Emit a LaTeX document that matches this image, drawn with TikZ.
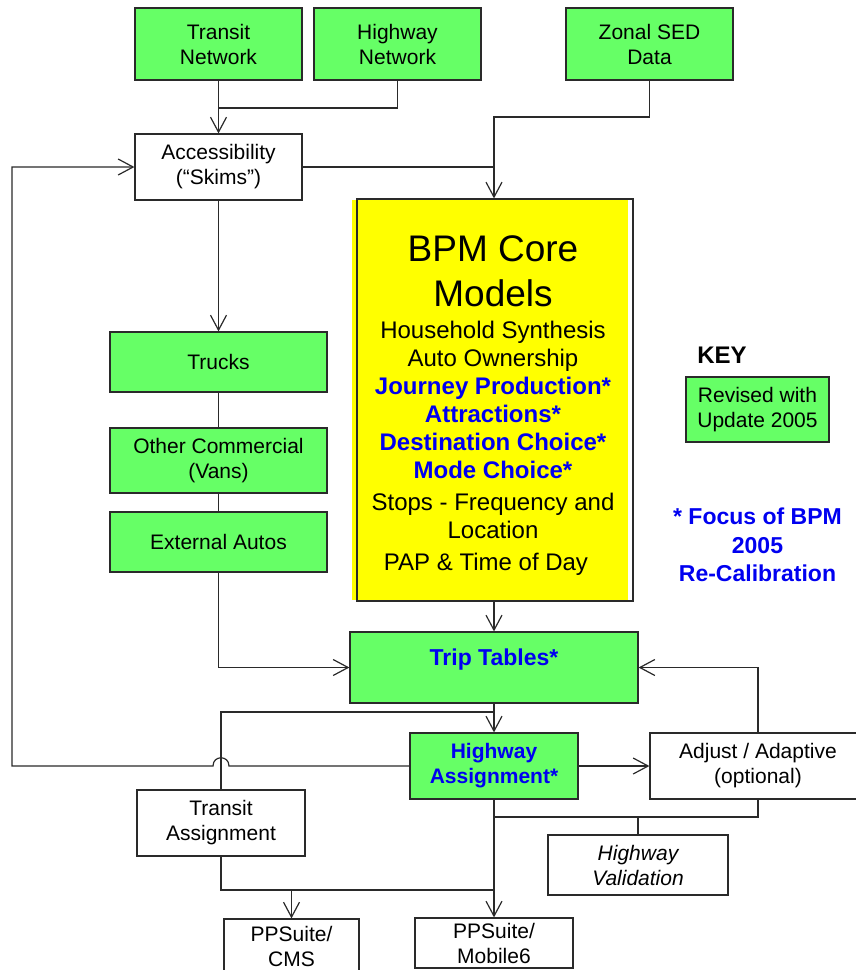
\documentclass[tikz,border=0pt]{standalone}
\usepackage{fontspec}
\setmainfont{Liberation Sans}
\usetikzlibrary{arrows.meta}
\definecolor{boxgreen}{HTML}{66FF66}
\definecolor{coreyellow}{HTML}{FFFF00}
\definecolor{txtblue}{HTML}{0000F0}
\definecolor{linegray}{HTML}{2A2A2A}
\begin{document}
\begin{tikzpicture}[x=1pt,y=-1pt,
  base/.style={draw=linegray, line width=1.2pt, inner sep=0pt, align=center,
    font=\fontsize{21}{25}\selectfont},
  gbox/.style={base, fill=boxgreen},
  wbox/.style={base, fill=white},
  conn/.style={draw=linegray, line width=1.2pt},
  arr/.style={conn, -{Straight Barb[length=15pt,width=16pt,line width=1.2pt]}},
  bluebold/.style={text=txtblue, font=\fontsize{21}{25}\selectfont\bfseries}
]
\useasboundingbox (0,0) rectangle (856,970);

% top inputs
\node[gbox, minimum width=167pt, minimum height=72pt] (tn) at (218.5,44) {Transit\\Network};
\node[gbox, minimum width=167pt, minimum height=72pt] (hn) at (397.5,44) {Highway\\Network};
\node[gbox, minimum width=167pt, minimum height=72pt] (zs) at (649.5,44) {Zonal SED\\Data};

\node[wbox, minimum width=167pt, minimum height=66pt] (acc) at (218.5,167) {Accessibility\\(“Skims”)};

% left column
\node[gbox, minimum width=217pt, minimum height=60pt] (trucks) at (218.5,362) {Trucks};
\node[gbox, minimum width=217pt, minimum height=65pt] (other) at (218.5,460.5) {Other Commercial\\(Vans)};
\node[gbox, minimum width=217pt, minimum height=60pt] (ext) at (218.5,542) {External Autos};

% core models
\fill[coreyellow] (352,200) rectangle (628,600);
\node[draw=linegray, line width=1.2pt, minimum width=276pt, minimum height=402pt, inner sep=0pt] (bpm) at (495,400) {};
\node[align=center, inner sep=0pt, font=\fontsize{24}{28}\selectfont] (bpmT) at (493,406)
 {\fontsize{37}{45}\selectfont BPM Core\\[17pt]
  \fontsize{37}{45}\selectfont Models\\[4pt]
  \fontsize{24}{28}\selectfont Household Synthesis\\
  Auto Ownership\\
  {\color{txtblue}\bfseries Journey Production*}\\
  {\color{txtblue}\bfseries Attractions*}\\
  {\color{txtblue}\bfseries Destination Choice*}\\
  {\color{txtblue}\bfseries Mode Choice*}\\[4pt]
  Stops - Frequency and\\
  Location\\[4pt]
  PAP \& Time of Day\hspace*{14pt}};

% trip tables
\node[gbox, minimum width=288pt, minimum height=71pt] (trip) at (494,667.5) {};
\node[text=txtblue, inner sep=0pt, font=\fontsize{23}{27}\selectfont\bfseries] (tripT) at (494,660) {Trip Tables*};

% assignment
\node[gbox, minimum width=168pt, minimum height=66pt, bluebold] (ha) at (494,766) {Highway\\Assignment*};
\node[wbox, minimum width=216pt, minimum height=66pt] (adj) at (758,766) {Adjust / Adaptive\\(optional)};
\node[wbox, minimum width=168pt, minimum height=66pt] (ta) at (221,823) {Transit\\Assignment};
\node[wbox, minimum width=180pt, minimum height=60pt, font=\fontsize{21}{25}\selectfont\itshape] (hv) at (638,865) {Highway\\Validation};

% outputs
\node[wbox, minimum width=135pt, minimum height=54pt] (cms) at (291.5,946) {PPSuite/\\CMS};
\node[wbox, minimum width=158pt, minimum height=50pt] (mob) at (494,943) {PPSuite/\\Mobile6};

% key
\node[inner sep=0pt, font=\fontsize{24}{28}\selectfont\bfseries] (key) at (722,355) {KEY};
\node[gbox, minimum width=143pt, minimum height=65pt] (keybox) at (757.5,409.5) {Revised with\\Update 2005};
\node[align=center, inner sep=0pt, text=txtblue, font=\fontsize{23}{28.5}\selectfont\bfseries] (focus) at (757.5,545) {* Focus of BPM\\2005\\Re-Calibration};

% junction coordinates
\coordinate (j1) at (218.5,108);
\coordinate (j2) at (494,117);
\coordinate (j3) at (494,712);
\coordinate (j4) at (494,817);
\coordinate (j5) at (494,890);
\coordinate (hopR) at (229,766);
\coordinate (hopL) at (213,766);
\coordinate (lp) at (12,766);

% connectors
\draw[arr] (tn.south) -- (acc.north);
\draw[conn] (hn.south) |- (j1);
\draw[arr] (zs.south) |- (j2) -- (j2 |- bpm.north);
\draw[conn] (acc.east) -- (acc.east -| j2);
\draw[arr] (acc.south) -- (trucks.north);
\draw[conn] (trucks.south) -- (other.north);
\draw[conn] (other.south) -- (ext.north);
\draw[arr] (ext.south) |- (trip.west);
\draw[arr] (trip.north |- bpm.south) -- (trip.north);
\draw[arr] (trip.south) -- (ha.north);
\draw[conn] (j3) -| (ta.north);
\draw[arr] (ha.west) -- (hopR) .. controls (229,755) and (213,755) .. (hopL) -- (lp) |- (acc.west);
\draw[arr] (ha.east) -- (adj.west);
\draw[arr] (adj.north) |- (trip.east);
\draw[conn] (adj.south) |- (j4);
\draw[conn] (hv.north) -- (hv.north |- j4);
\draw[arr] (ha.south) -- (mob.north);
\draw[conn] (ta.south) |- (j5);
\draw[arr] (cms.north |- j5) -- (cms.north);
\end{tikzpicture}
\end{document}
